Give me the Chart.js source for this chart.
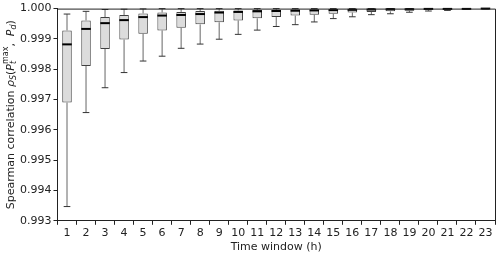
<!DOCTYPE html>
<html>
<head>
<meta charset="utf-8">
<script src="https://cdn.jsdelivr.net/npm/chart.js@4"></script>
<style>
  html, body { margin: 0; padding: 0; background: #fff; }
  #wrap { width: 500px; height: 254px; }
</style>
</head>
<body>
<div id="wrap"><canvas id="chartCanvas" width="500" height="254"></canvas></div>
<script>
// time windows in hours
const windows = ['1','2','3','4','5','6','7','8','9','10','11','12','13','14','15','16','17','18','19','20','21','22','23'];

// box plot stats
const lowerWhisker = [0.99347, 0.99657, 0.99739, 0.99789, 0.99827, 0.99843, 0.99869, 0.99883, 0.99899, 0.99915, 0.99929, 0.99941, 0.99947, 0.99956, 0.99967, 0.99973, 0.99980, 0.99983, 0.99988, 0.99992, 0.99994, 0.99997, 0.99999];
const q1 = [0.99690, 0.99811, 0.99867, 0.99898, 0.99917, 0.99928, 0.99937, 0.99948, 0.99955, 0.99961, 0.99968, 0.99972, 0.99977, 0.99980, 0.99983, 0.99987, 0.99989, 0.99991, 0.99993, 0.99995, 0.99996, 0.99998, 0.99999];
const median = [0.99882, 0.99933, 0.99952, 0.99962, 0.99972, 0.99977, 0.99979, 0.99982, 0.99987, 0.99989, 0.99991, 0.99992, 0.99993, 0.99994, 0.99995, 0.99996, 0.99997, 0.99998, 0.99998, 0.99999, 0.99999, 0.99999, 1.00000];
const q3 = [0.99928, 0.99961, 0.99972, 0.99979, 0.99984, 0.99987, 0.99989, 0.99992, 0.99993, 0.99994, 0.99995, 0.99996, 0.99997, 0.99997, 0.99998, 0.99998, 0.99999, 0.99999, 0.99999, 1.00000, 1.00000, 1.00000, 1.00000];
const upperWhisker = [0.99982, 0.99991, 0.99997, 0.99998, 0.99999, 1.00000, 1.00000, 1.00000, 1.00000, 1.00000, 1.00000, 1.00000, 1.00000, 1.00000, 1.00000, 1.00000, 1.00000, 1.00000, 1.00000, 1.00000, 1.00000, 1.00000, 1.00000];

const yTicks = [0.993, 0.994, 0.995, 0.996, 0.997, 0.998, 0.999, 1.000];

const FONT = 'DejaVu Sans';
const AXIS = '#222222';

// whiskers, caps, medians and the top/right frame
const boxExtras = {
  id: 'boxExtras',
  afterDatasetsDraw(chart) {
    const ctx = chart.ctx;
    const y = chart.scales.y;
    const meta = chart.getDatasetMeta(0);
    ctx.save();
    meta.data.forEach((bar, i) => {
      const x = bar.x;
      const w = bar.width;
      const cap = w * 0.35;
      const yq1 = y.getPixelForValue(q1[i]);
      const yq3 = y.getPixelForValue(q3[i]);
      const ylo = y.getPixelForValue(lowerWhisker[i]);
      const yhi = y.getPixelForValue(upperWhisker[i]);
      ctx.strokeStyle = '#666666';
      ctx.lineWidth = 1;
      ctx.beginPath();
      ctx.moveTo(x, yq1); ctx.lineTo(x, ylo);
      ctx.moveTo(x, yq3); ctx.lineTo(x, yhi);
      ctx.stroke();
      ctx.strokeStyle = '#333333';
      ctx.beginPath();
      ctx.moveTo(x - cap, ylo); ctx.lineTo(x + cap, ylo);
      ctx.moveTo(x - cap, yhi); ctx.lineTo(x + cap, yhi);
      ctx.stroke();
      const ym = y.getPixelForValue(median[i]);
      ctx.strokeStyle = '#000000';
      ctx.lineWidth = 2;
      ctx.beginPath();
      ctx.moveTo(x - w / 2, ym); ctx.lineTo(x + w / 2, ym);
      ctx.stroke();
    });
    const a = chart.chartArea;
    ctx.strokeStyle = AXIS;
    ctx.lineWidth = 1;
    ctx.beginPath();
    ctx.moveTo(a.left, a.top + 0.5); ctx.lineTo(a.right + 0.5, a.top + 0.5);
    ctx.lineTo(a.right + 0.5, a.bottom);
    ctx.stroke();
    ctx.restore();
  },
  afterDraw(chart) {
    // y title with sub/superscripts
    const ctx = chart.ctx;
    const a = chart.chartArea;
    const parts = [
      { t: 'Spearman correlation ', s: 11, st: '', dy: 0 },
      { t: 'ρ', s: 11, st: 'italic ', dy: 0 },
      { t: 'S', s: 8, st: 'italic ', dy: 3 },
      { t: '(', s: 11, st: '', dy: 0 },
      { t: 'P', s: 11, st: 'italic ', dy: 0 },
      { t: 't', s: 8, st: 'italic ', dy: 3 },
      { t: 'max', s: 8, st: '', dy: -5, back: true },
      { t: ',  ', s: 11, st: '', dy: 0 },
      { t: 'P', s: 11, st: 'italic ', dy: 0 },
      { t: 'd', s: 8, st: 'italic ', dy: 3 },
      { t: ')', s: 11, st: '', dy: 0 }
    ];
    ctx.save();
    const widths = parts.map(p => {
      ctx.font = p.st + p.s + 'px "' + FONT + '"';
      return ctx.measureText(p.t).width;
    });
    // 't' and 'max' stack: advance by the wider one
    let total = 0;
    parts.forEach((p, i) => {
      total += p.back ? Math.max(0, widths[i] - widths[i - 1]) : widths[i];
    });
    ctx.translate(11, (a.top + a.bottom) / 2);
    ctx.rotate(-Math.PI / 2);
    ctx.fillStyle = AXIS;
    ctx.textBaseline = 'middle';
    let xpos = -total / 2;
    parts.forEach((p, i) => {
      ctx.font = p.st + p.s + 'px "' + FONT + '"';
      let x0 = p.back ? xpos - widths[i - 1] : xpos;
      ctx.fillText(p.t, x0, p.dy);
      xpos = x0 + (p.back ? Math.max(widths[i], widths[i - 1]) : widths[i]);
    });
    ctx.restore();
  }
};

new Chart(document.getElementById('chartCanvas').getContext('2d'), {
  type: 'bar',
  data: {
    labels: windows,
    datasets: [{
      data: q1.map((v, i) => [v, q3[i]]),
      backgroundColor: '#dcdcdc',
      borderColor: '#3f3f3f',
      borderWidth: 1,
      borderSkipped: false,
      barPercentage: 0.5,
      categoryPercentage: 1.0
    }]
  },
  options: {
    responsive: false,
    animation: false,
    layout: { padding: { left: 18, top: 7, right: 5, bottom: 1 } },
    plugins: { legend: { display: false }, tooltip: { enabled: false } },
    scales: {
      x: {
        offset: true,
        grid: { display: true, drawOnChartArea: false, drawTicks: true, tickLength: 4, color: AXIS },
        border: { display: true, color: AXIS, width: 1 },
        ticks: { color: AXIS, font: { family: FONT, size: 11 }, padding: 2, maxRotation: 0, autoSkip: false },
        title: { display: true, text: 'Time window (h)', color: AXIS, font: { family: FONT, size: 11, lineHeight: 1 }, padding: { top: 0, bottom: 0 } }
      },
      y: {
        min: 0.993,
        max: 1.0,
        afterBuildTicks: scale => { scale.ticks = yTicks.map(v => ({ value: v })); },
        grid: { display: true, drawOnChartArea: false, drawTicks: true, tickLength: 4, color: AXIS },
        border: { display: true, color: AXIS, width: 1 },
        ticks: { color: AXIS, font: { family: FONT, size: 11 }, padding: 2, callback: v => Number(v).toFixed(3) }
      }
    }
  },
  plugins: [boxExtras]
});
</script>
</body>
</html>
